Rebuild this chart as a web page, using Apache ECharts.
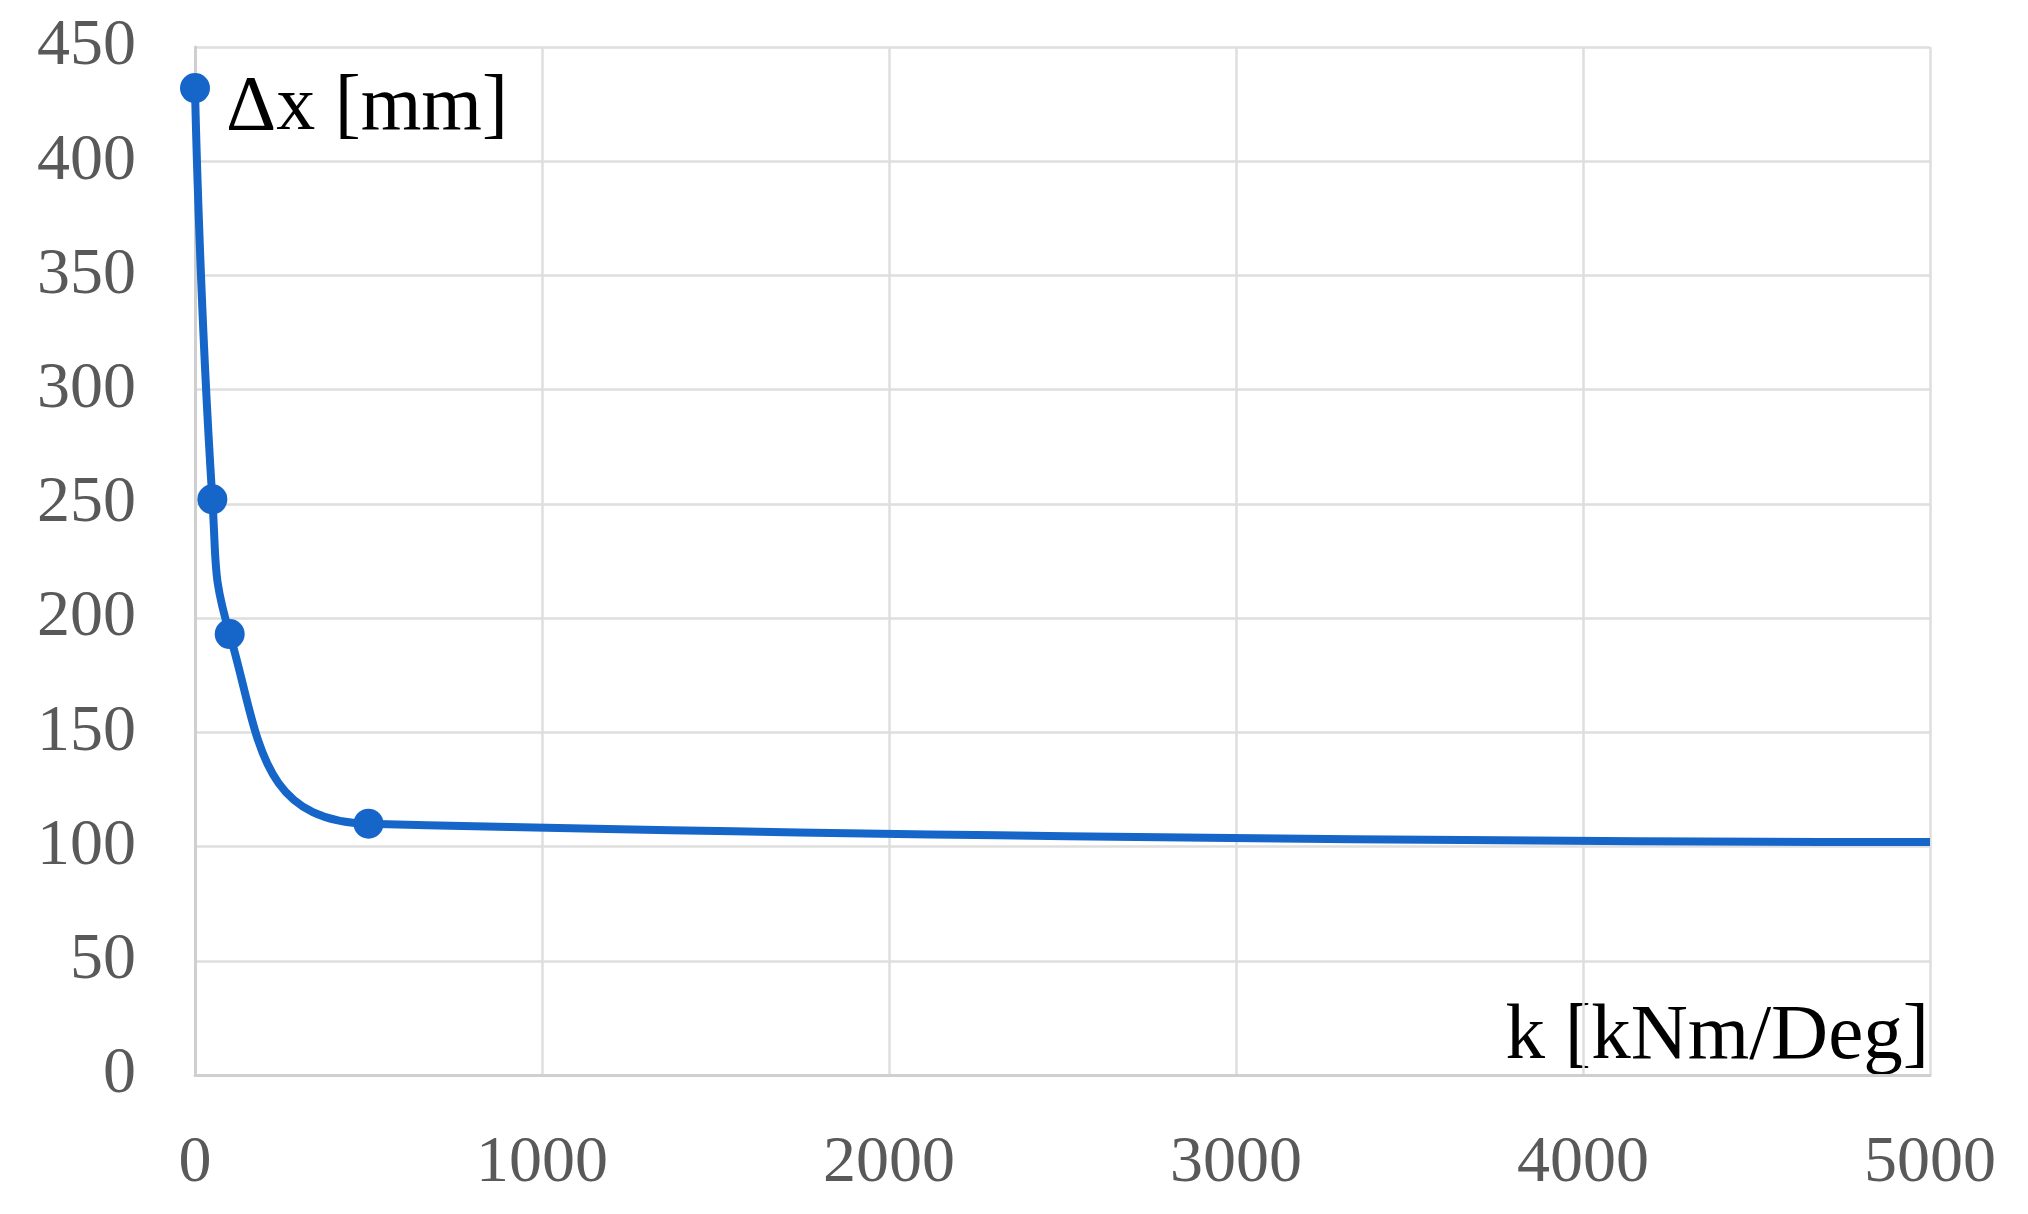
<!DOCTYPE html>
<html>
<head>
<meta charset="utf-8">
<script src="https://cdn.jsdelivr.net/npm/echarts@6/dist/echarts.min.js"></script>
<style>
  html, body { margin: 0; padding: 0; background: #fff; }
  #main { width: 2028px; height: 1214px; }
</style>
</head>
<body>
<div id="main"></div>
<script>
// stiffness k [kNm/Deg] vs displacement dx [mm]
const kValues = [0, 50, 100, 500, 5000];
const dxValues = [432, 252, 193, 110, 102];
const markerShown = [true, true, true, true, false];
const xTicks = [0, 1000, 2000, 3000, 4000, 5000];
const yTicks = [0, 50, 100, 150, 200, 250, 300, 350, 400, 450];

const blue = '#1566C8';
const serif = '"Liberation Serif", "DejaVu Serif", serif';

var chart = echarts.init(document.getElementById('main'));

var points = kValues.map(function (k, i) {
    return {
        value: [k, dxValues[i]],
        symbol: markerShown[i] ? 'circle' : 'none'
    };
});

var option = {
    animation: false,
    backgroundColor: '#fff',
    grid: { left: 195, right: 98, top: 47, bottom: 139 },
    xAxis: {
        type: 'value',
        min: xTicks[0],
        max: xTicks[xTicks.length - 1],
        interval: 1000,
        axisLine: { show: true, lineStyle: { color: '#cfcfcf', width: 3 } },
        axisTick: { show: false },
        axisLabel: {
            color: '#595959', fontFamily: serif, fontSize: 66, margin: 56,
            formatter: function (v) { return String(v); }
        },
        splitLine: { show: true, lineStyle: { color: '#dedede', width: 2.5 } }
    },
    yAxis: {
        type: 'value',
        min: yTicks[0],
        max: yTicks[yTicks.length - 1],
        interval: 50,
        axisLine: { show: true, lineStyle: { color: '#cfcfcf', width: 3 } },
        axisTick: { show: false },
        axisLabel: { color: '#595959', fontFamily: serif, fontSize: 66, margin: 59 },
        splitLine: { show: true, lineStyle: { color: '#dedede', width: 2.5 } }
    },
    series: [{
        type: 'line',
        data: points,
        smooth: 0.5,
        symbolSize: 30,
        lineStyle: { color: blue, width: 8 },
        itemStyle: { color: blue },
        clip: false
    }],
    graphic: [
        {
            type: 'text',
            left: 226,
            top: 70,
            style: { text: 'Δx [mm]', fill: '#000', font: '78px ' + serif }
        },
        {
            type: 'text',
            right: 99,
            top: 998,
            style: { text: 'k [kNm/Deg]', fill: '#000', font: '79px ' + serif }
        }
    ]
};

chart.setOption(option);
</script>
</body>
</html>
